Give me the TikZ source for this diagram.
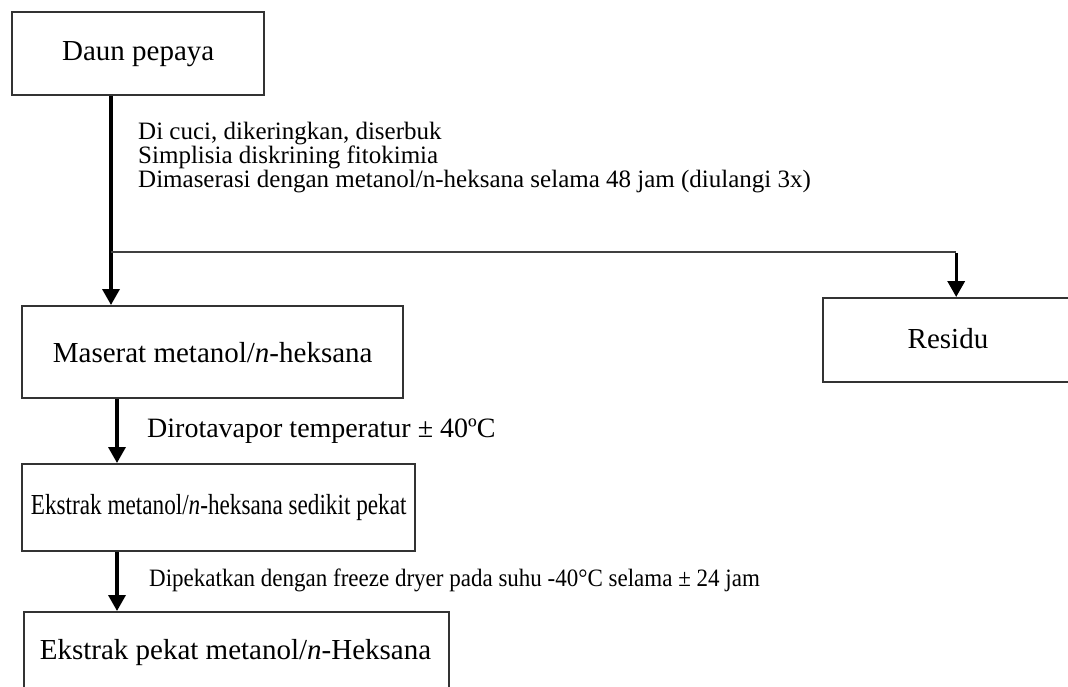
\documentclass[tikz,border=0pt]{standalone}
\usepackage{fontspec}
\usepackage{graphicx}
\setmainfont{Liberation Serif}
\usetikzlibrary{arrows.meta,calc}
\begin{document}
\begin{tikzpicture}[x=1pt,y=-1pt,
  box/.style={draw=black!80, line width=2.4pt, rectangle, inner sep=0pt, anchor=north west, font=\fontsize{29}{34}\selectfont},
  arr/.style={line width=3.4pt, -{Triangle[width=17pt,length=16pt]}},
  thinline/.style={line width=2pt, draw=black!75},
  note/.style={inner sep=0pt, anchor=base west, font=\fontsize{25}{30}\selectfont},
  boxtext/.style={inner sep=0pt, anchor=base, font=\fontsize{29}{34}\selectfont}]
\useasboundingbox (0,0) rectangle (1068,686);
\clip (0,0) rectangle (1068,686);
% boxes
\node[box, minimum width=252pt, minimum height=83pt] (daun) at (11,11) {Daun pepaya};
\node[box, minimum width=381pt, minimum height=92pt] (mas) at (21,305) {Maserat metanol/\textit{n}-heksana};
\node[box, minimum width=266pt, minimum height=84pt] (res) at (822,297) {};
\node[boxtext] (rest) at (948,348) {Residu};
\node[box, minimum width=393pt, minimum height=87pt] (eks) at (21,463) {\scalebox{0.8}[1]{Ekstrak metanol/\textit{n}-heksana sedikit pekat}};
\node[box, minimum width=425pt, minimum height=95pt] (fin) at (23,611) {};
\node[boxtext] (fint) at (235.5,659) {Ekstrak pekat metanol/\textit{n}-Heksana};
% annotations
\node[note] (n1) at (138,139) {Di cuci, dikeringkan, diserbuk};
\node[note] (n2) at (138,163) {Simplisia diskrining fitokimia};
\node[note] (n3) at (138,187) {Dimaserasi dengan metanol/n-heksana selama 48 jam (diulangi 3x)};
\node[note, font=\fontsize{28}{32}\selectfont] (n4) at (147,437) {Dirotavapor temperatur ± 40ºC};
\node[note] (n5) at (149,586) {\scalebox{0.92}[1]{Dipekatkan dengan freeze dryer pada suhu -40°C selama ± 24 jam}};
% connectors
\coordinate (j) at (111,252);
\coordinate (k) at (117,0);
\draw[arr] (daun.south -| j) -- (mas.north -| j);
\draw[thinline] (j) -- (j -| res.north);
\draw[arr] ([yshift=-1pt]j -| res.north) -- (res.north);
\draw[arr] (mas.south -| k) -- (eks.north -| k);
\draw[arr] (eks.south -| k) -- (fin.north -| k);
\end{tikzpicture}
\end{document}
